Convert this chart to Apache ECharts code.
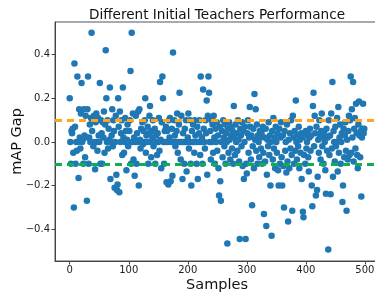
<!DOCTYPE html>
<html>
<head>
<meta charset="utf-8">
<script src="https://cdn.jsdelivr.net/npm/echarts@6/dist/echarts.min.js"></script>
<style>
  html, body { margin: 0; padding: 0; background: #fff; }
  #chart { width: 375px; height: 297px; }
</style>
</head>
<body>
<div id="chart"></div>
<script>
// mAP gap for each sample (x = sample index 0..499)
var gaps = [
  0.2, 0.0, -0.1, 0.05, 0.04, 0.06, -0.05, -0.3, 0.36, 0.07, -0.1, 0.0, -0.04, 0.3, 0.0, -0.165, 0.15, 0.02, -0.03, 0.13, 0.27, 0.0, 0.01, -0.1, 0.15,
  0.03, -0.07, 0.12, 0.02, -0.27, 0.15, 0.3, -0.1, 0.02, 0.08, 0.0, 0.11, 0.5, 0.05, 0.1, -0.02, 0.12, 0.0, -0.125, 0.09, 0.13, 0.0, -0.04, 0.11, 0.03,
  0.0, 0.27, -0.1, 0.1, 0.04, -0.1, 0.09, 0.02, 0.14, -0.05, 0.08, 0.42, 0.2, 0.0, 0.1, -0.03, 0.06, 0.01, 0.25, -0.17, 0.0, 0.03, 0.15, -0.02, 0.1,
  0.05, -0.21, 0.0, 0.12, -0.15, -0.22, -0.195, 0.2, 0.07, -0.23, 0.14, 0.0, 0.04, 0.1, -0.06, 0.25, 0.02, -0.05, 0.0, 0.11, 0.05, -0.13, 0.01, 0.08, -0.02,
  0.0, 0.05, 0.1, 0.325, -0.1, 0.5, 0.0, 0.13, -0.08, 0.02, -0.155, 0.0, 0.12, -0.1, 0.04, 0.0, 0.14, -0.2, 0.15, 0.01, -0.03, 0.06, 0.0, 0.09, -0.01,
  0.05, 0.0, 0.1, 0.2, -0.05, 0.03, 0.0, 0.07, -0.1, 0.04, 0.12, 0.165, 0.0, -0.07, 0.05, 0.02, 0.1, -0.02, 0.0, 0.06, -0.1, 0.03, 0.0, -0.06, 0.04,
  0.0, 0.11, -0.04, 0.275, 0.01, -0.12, 0.09, 0.3, 0.2, 0.0, -0.1, 0.05, 0.0, 0.07, -0.185, 0.05, 0.0, -0.195, 0.1, 0.02, 0.11, -0.18, 0.0, 0.06, -0.155,
  0.41, 0.0, 0.1, 0.03, -0.02, 0.0, 0.05, 0.13, -0.05, 0.0, 0.08, 0.225, 0.0, -0.08, 0.12, 0.0, -0.17, 0.04, 0.0, -0.1, 0.06, 0.0, 0.1, -0.135, 0.0,
  0.02, 0.13, -0.03, 0.0, 0.1, -0.1, -0.2, 0.05, 0.0, 0.08, 0.0, -0.05, 0.1, 0.03, 0.0, -0.1, 0.07, -0.17, 0.0, 0.04, 0.1, -0.06, 0.3, 0.0, 0.02,
  -0.1, 0.24, 0.06, 0.0, -0.03, 0.1, 0.04, 0.19, -0.15, 0.12, 0.3, 0.225, 0.0, 0.05, -0.08, 0.1, 0.0, 0.08, -0.05, 0.12, 0.02, -0.1, 0.06, 0.0, 0.09,
  -0.04, 0.03, -0.12, -0.245, 0.07, -0.18, -0.27, 0.0, 0.05, -0.07, 0.1, 0.02, -0.02, 0.08, -0.1, 0.04, 0.0, -0.465, 0.06, -0.05, 0.09, 0.01, -0.08, 0.03, 0.07,
  -0.03, 0.05, -0.1, 0.165, 0.02, -0.06, 0.08, 0.0, 0.04, -0.04, 0.1, 0.01, -0.09, -0.445, 0.06, 0.03, -0.02, 0.09, -0.11, 0.05, -0.17, 0.0, 0.07, -0.445, -0.1,
  -0.145, 0.04, 0.1, -0.05, 0.02, 0.16, 0.07, -0.08, 0.03, -0.29, -0.02, 0.06, -0.12, 0.22, 0.01, 0.15, -0.04, 0.08, -0.1, 0.03, 0.0, -0.07, 0.05, 0.02, -0.03,
  0.04, -0.1, 0.07, -0.05, -0.33, 0.02, -0.09, 0.06, -0.385, -0.15, 0.01, -0.02, 0.09, -0.06, 0.03, -0.2, 0.0, -0.43, 0.05, -0.08, 0.11, -0.03, 0.02, -0.12, 0.07,
  0.0, -0.05, 0.04, -0.13, -0.2, 0.06, -0.1, 0.02, 0.09, -0.07, -0.2, 0.03, -0.11, -0.3, 0.05, -0.04, 0.0, -0.14, 0.08, -0.09, -0.365, 0.01, -0.12, 0.04, -0.03,
  0.1, -0.06, -0.315, 0.12, 0.02, -0.1, 0.05, -0.04, 0.19, 0.0, -0.08, 0.03, -0.02, 0.07, -0.12, 0.01, -0.05, 0.04, -0.17, 0.02, -0.32, -0.345, -0.06, 0.03, -0.1,
  0.05, -0.03, 0.0, 0.04, -0.07, -0.135, 0.02, 0.06, -0.04, 0.03, -0.2, -0.295, 0.165, 0.225, -0.02, 0.12, 0.04, -0.245, 0.07, -0.22, -0.16, 0.01, -0.05, 0.1, 0.03,
  -0.08, 0.05, 0.13, -0.02, 0.02, -0.1, 0.04, 0.0, -0.13, -0.237, 0.06, -0.04, 0.02, -0.493, 0.1, -0.06, 0.03, -0.24, 0.13, -0.03, 0.275, -0.16, 0.05, 0.0, -0.09,
  0.07, -0.02, 0.0, 0.11, -0.135, 0.16, -0.05, 0.02, 0.08, -0.1, 0.0, 0.04, -0.275, -0.2, 0.06, -0.07, 0.03, 0.09, -0.04, -0.315, 0.01, -0.08, 0.05, 0.12, -0.06,
  0.1, 0.3, -0.05, 0.15, 0.02, 0.275, -0.09, 0.06, 0.11, -0.03, 0.175, 0.04, -0.06, -0.12, 0.08, 0.185, 0.03, -0.07, 0.05, -0.25, 0.02, 0.06, 0.175, 0.04, 0.06
];
var upperLine = 0.1;
var lowerLine = -0.1;
var xTicks = [0, 100, 200, 300, 400, 500];
var yTicks = [-0.4, -0.2, 0.0, 0.2, 0.4];

var points = [];
for (var i = 0; i < gaps.length; i++) {
  points.push([i, gaps[i]]);
}

var chart = echarts.init(document.getElementById('chart'), null, { renderer: 'canvas' });
var font = 'DejaVu Sans';
chart.setOption({
  animation: false,
  textStyle: { fontFamily: font },
  title: {
    text: 'Different Initial Teachers Performance',
    left: 212, top: 3, textAlign: 'center',
    textStyle: { fontFamily: font, fontSize: 13.6, fontWeight: 'normal', color: '#111' }
  },
  grid: {
    left: 55, top: 22, width: 324, height: 239,
    outerBoundsMode: 'none', containLabel: false,
    show: true, borderColor: '#555', borderWidth: 1, backgroundColor: 'transparent'
  },
  xAxis: {
    type: 'value', min: -24.95, max: 523.95,
    name: 'Samples', nameLocation: 'middle', nameGap: 17, nameMoveOverlap: false,
    nameTextStyle: { fontFamily: font, fontSize: 14.5, color: '#111' },
    splitLine: { show: false },
    axisLine: { show: true, onZero: false, lineStyle: { color: '#444', width: 1 } },
    axisTick: { show: true, inside: false, length: 3.5, customValues: xTicks, lineStyle: { color: '#444' } },
    axisLabel: { customValues: xTicks, fontSize: 10, color: '#222', margin: 4, fontFamily: font }
  },
  yAxis: {
    type: 'value', min: -0.5456, max: 0.5498,
    name: 'mAP Gap', nameLocation: 'middle', nameGap: 30, nameRotate: 90, nameMoveOverlap: false,
    nameTextStyle: { fontFamily: font, fontSize: 14.5, color: '#111' },
    splitLine: { show: false },
    axisLine: { show: true, onZero: false, lineStyle: { color: '#444', width: 1 } },
    axisTick: { show: true, inside: false, length: 3.5, customValues: yTicks, lineStyle: { color: '#444' } },
    axisLabel: {
      customValues: yTicks, fontSize: 10, color: '#222', margin: 5, fontFamily: font,
      formatter: function (v) { return v.toFixed(1).replace('-', '\u2212'); }
    }
  },
  series: [
    {
      type: 'scatter',
      data: points,
      symbolSize: 6.5,
      itemStyle: { color: '#1f77b4', opacity: 1 },
      z: 2
    },
    {
      type: 'line',
      data: [],
      z: 3,
      markLine: {
        silent: true, symbol: 'none', label: { show: false },
        data: [
          { yAxis: upperLine, lineStyle: { color: '#ffa41b', width: 3, type: [7, 5] } },
          { yAxis: lowerLine, lineStyle: { color: '#0db14b', width: 3, type: [7, 5] } }
        ]
      }
    }
  ]
});
</script>
</body>
</html>
